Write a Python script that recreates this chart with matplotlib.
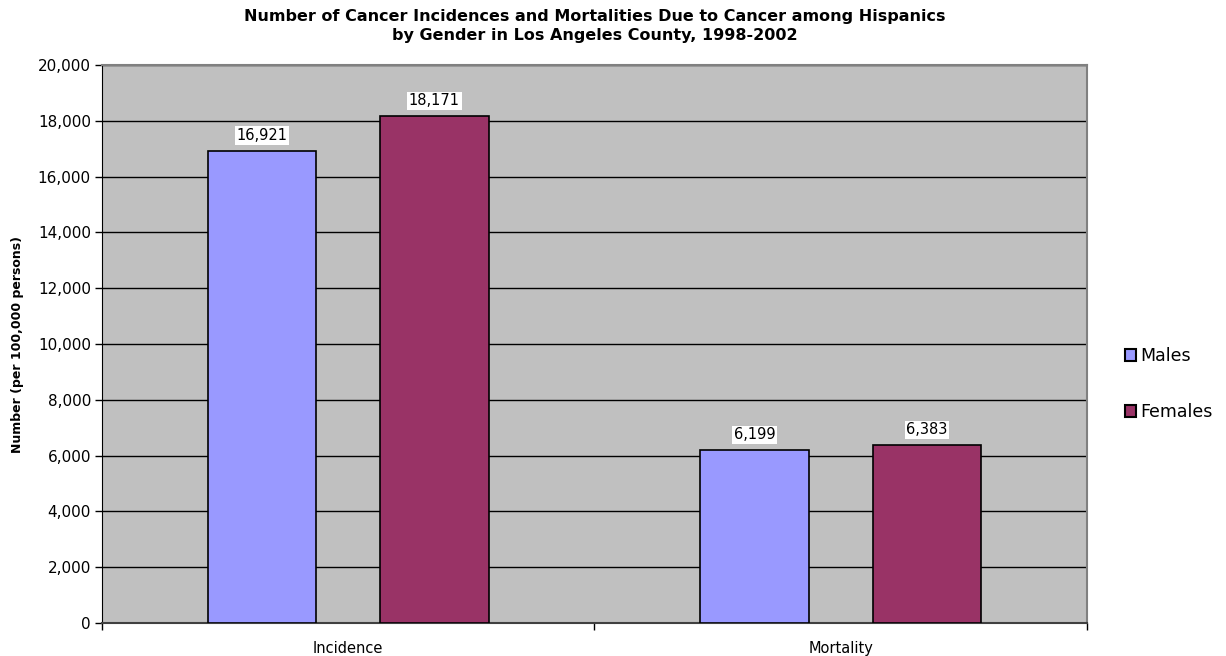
import matplotlib
matplotlib.use("Agg")
import matplotlib.pyplot as plt
import numpy as np
from matplotlib.ticker import FuncFormatter, MultipleLocator

categories = ["Incidence", "Mortality"]
series = ["Males", "Females"]
males = [16921, 6199]
females = [18171, 6383]
colors = ["#9999FF", "#993366"]

plt.rcParams['font.family'] = ['DejaVu Sans']

fig = plt.figure(figsize=(12.26, 6.56), dpi=100)
ax = fig.add_axes([0.0832, 0.0503, 0.8034, 0.8506])
ax.set_facecolor("#C0C0C0")

x = np.arange(len(categories))
w = 0.22
off = 0.175
for vals, col, name, sgn in [(males, colors[0], series[0], -1), (females, colors[1], series[1], 1)]:
    bars = ax.bar(x + sgn * off, vals, w, color=col, edgecolor="black", linewidth=1.2, label=name, zorder=3)
    for b, v in zip(bars, vals):
        ax.text(b.get_x() + b.get_width() / 2, v + 280, f"{v:,}", ha="center", va="bottom",
                fontsize=10.5, zorder=4,
                bbox=dict(facecolor="white", edgecolor="none", pad=1.2))

ax.set_xlim(-0.5, 1.5)
ax.set_ylim(0, 20000)
ax.yaxis.set_major_locator(MultipleLocator(2000))
ax.yaxis.set_major_formatter(FuncFormatter(lambda v, p: f"{int(v):,}"))
ax.grid(axis="y", color="black", linewidth=1, zorder=1)

ax.set_xticks(x)
ax.set_xticklabels(categories, fontsize=10.5)
ax.set_xticks([-0.5, 0.5, 1.5], minor=True)
ax.tick_params(axis="x", which="major", length=0, pad=13)
ax.tick_params(axis="x", which="minor", length=5, width=1, direction="out")
ax.tick_params(axis="y", labelsize=11, length=5, width=1, direction="out", pad=3)

for s in ["top", "right"]:
    ax.spines[s].set_color("#808080")
    ax.spines[s].set_linewidth(1.5)
ax.spines["left"].set_color("black")
ax.spines["bottom"].set_color("#404040")
ax.spines["bottom"].set_linewidth(1.5)

ax.set_ylabel("Number (per 100,000 persons)", fontsize=9, fontweight="bold", labelpad=10)
ax.set_title("Number of Cancer Incidences and Mortalities Due to Cancer among Hispanics\n"
             "by Gender in Los Angeles County, 1998-2002", fontsize=11.5, fontweight="bold", pad=18,
             linespacing=1.3)

leg = ax.legend(loc="center left", bbox_to_anchor=(1.0295, 0.428), frameon=False, fontsize=12.5,
                borderpad=0, handlelength=0.63, handleheight=0.63, handletextpad=0.25, labelspacing=2.2)
for h in leg.legend_handles:
    h.set_edgecolor("black")
    h.set_linewidth(1.5)

fig.savefig("out.png", dpi=100)
